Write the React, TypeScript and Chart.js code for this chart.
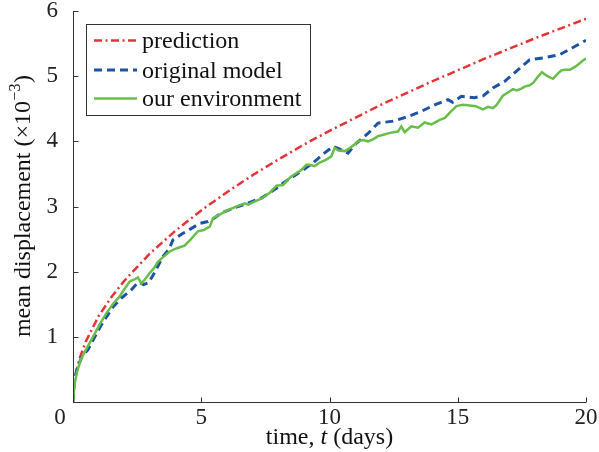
import React, { useEffect, useRef } from 'react';
import { Chart, registerables } from 'chart.js';
Chart.register(...registerables);

const FONT = '"Liberation Serif", "Times New Roman", serif';

const xTicks = [0, 5, 10, 15, 20];
const yTicks = [0, 1, 2, 3, 4, 5, 6];
const seriesNames = ['prediction', 'original model', 'our environment'];

const predT = [0.1, 0.25, 0.5, 1, 1.5, 2, 3, 4, 5, 6, 7, 8, 9, 10, 11, 12, 13, 14, 15, 16, 17, 18, 19, 20];
const predV = [0.42, 0.66, 0.93, 1.32, 1.61, 1.86, 2.28, 2.63, 2.94, 3.22, 3.48, 3.72, 3.95, 4.16, 4.36, 4.56, 4.74, 4.92, 5.09, 5.26, 5.42, 5.58, 5.73, 5.88];

const origT = [0, 0.05, 0.15, 0.35, 0.58, 0.85, 1.1, 1.56, 1.9, 2.27, 2.55, 2.75, 2.95, 3.2, 3.5, 3.75, 3.9, 4.29, 4.6, 4.94, 5.26, 5.5, 5.79, 6.3, 6.8, 7.35, 7.93, 8.38, 8.9, 9.36, 9.8, 10.14, 10.4, 10.72, 11.04, 11.5, 11.89, 12.48, 13.06, 13.58, 14.1, 14.62, 14.8, 15.14, 15.66, 16.0, 16.37, 16.83, 17.15, 17.5, 17.8, 18.32, 18.97, 19.49, 19.95, 20];
const origV = [0, 0.3, 0.5, 0.7, 0.8, 1.0, 1.18, 1.46, 1.6, 1.72, 1.84, 1.8, 1.83, 2.0, 2.23, 2.35, 2.49, 2.59, 2.66, 2.74, 2.77, 2.82, 2.9, 2.98, 3.05, 3.13, 3.28, 3.41, 3.54, 3.67, 3.82, 3.92, 3.88, 3.82, 3.97, 4.12, 4.28, 4.31, 4.38, 4.46, 4.56, 4.64, 4.6, 4.69, 4.67, 4.7, 4.82, 4.92, 5.03, 5.15, 5.25, 5.28, 5.33, 5.44, 5.54, 5.55];

const envT = [0, 0.05, 0.15, 0.3, 0.5, 0.85, 1.05, 1.3, 1.55, 1.82, 2.0, 2.21, 2.4, 2.53, 2.67, 2.8, 2.99, 3.15, 3.31, 3.5, 3.77, 4.05, 4.35, 4.6, 4.87, 5.1, 5.33, 5.46, 5.7, 5.91, 6.2, 6.43, 6.7, 6.83, 7.05, 7.28, 7.5, 7.67, 7.93, 8.19, 8.35, 8.51, 8.7, 8.9, 9.1, 9.23, 9.42, 9.6, 9.88, 10.07, 10.2, 10.35, 10.6, 10.8, 11.0, 11.11, 11.3, 11.5, 11.7, 11.89, 12.1, 12.35, 12.67, 12.8, 12.93, 13.19, 13.45, 13.71, 13.97, 14.3, 14.5, 14.69, 14.95, 15.2, 15.47, 15.7, 15.98, 16.18, 16.37, 16.5, 16.76, 17.0, 17.15, 17.3, 17.48, 17.61, 17.8, 17.95, 18.1, 18.28, 18.5, 18.71, 18.9, 19.04, 19.2, 19.37, 19.6, 19.88, 20.0];
const envV = [0, 0.25, 0.45, 0.65, 0.8, 1.05, 1.2, 1.36, 1.5, 1.62, 1.73, 1.85, 1.88, 1.91, 1.82, 1.88, 1.98, 2.05, 2.15, 2.22, 2.31, 2.36, 2.4, 2.5, 2.62, 2.64, 2.69, 2.82, 2.87, 2.92, 2.97, 3.01, 3.05, 3.03, 3.07, 3.11, 3.16, 3.21, 3.32, 3.33, 3.4, 3.46, 3.51, 3.56, 3.64, 3.64, 3.62, 3.67, 3.72, 3.77, 3.9, 3.86, 3.85, 3.9, 3.96, 4.0, 4.02, 4.0, 4.03, 4.08, 4.1, 4.13, 4.15, 4.23, 4.14, 4.23, 4.21, 4.29, 4.26, 4.33, 4.36, 4.44, 4.54, 4.56, 4.55, 4.54, 4.49, 4.53, 4.51, 4.55, 4.7, 4.76, 4.8, 4.78, 4.81, 4.84, 4.86, 4.9, 4.98, 5.06, 5.0, 4.96, 5.04, 5.09, 5.1, 5.1, 5.15, 5.24, 5.27];

const RED = 'rgb(228,52,56)';
const BLUE = 'rgb(30,82,165)';
const GREEN = 'rgb(104,190,72)';
const RED_DASH = [8, 3.5, 2, 3.5];
const BLUE_DASH = [8, 5];

const pts = (t: number[], v: number[]) => t.map((x, i) => ({ x, y: v[i] }));

export default function App() {
  const ref = useRef<HTMLCanvasElement>(null);
  useEffect(() => {
    document.body.style.margin = '0';
    const canvas = ref.current!;
    const overlay = {
      id: 'overlay',
      afterDraw(chart: any) {
        const { ctx, chartArea, scales } = chart;
        const { left, right, top, bottom } = chartArea;
        const xs = scales.x, ys = scales.y;
        ctx.save();
        // axes
        ctx.strokeStyle = '#333';
        ctx.lineWidth = 1;
        ctx.setLineDash([]);
        ctx.beginPath();
        const lx = Math.round(left) + 0.5, by = Math.round(bottom) + 0.5;
        ctx.moveTo(lx, top);
        ctx.lineTo(lx, by);
        ctx.lineTo(right, by);
        for (const v of yTicks) {
          const py = Math.round(ys.getPixelForValue(v)) + 0.5;
          ctx.moveTo(lx, py);
          ctx.lineTo(lx + 5, py);
        }
        for (const v of xTicks) {
          const px = Math.round(xs.getPixelForValue(v)) + 0.5;
          ctx.moveTo(px, by);
          ctx.lineTo(px, by - 5);
        }
        ctx.stroke();
        // shared zero label
        ctx.fillStyle = '#222';
        ctx.font = `23px ${FONT}`;
        ctx.textAlign = 'center';
        ctx.textBaseline = 'middle';
        ctx.fillText('0', left - 13, bottom + 16);

        // legend
        const bx = 86.5, byy = 24.5, bw = 224, bh = 91;
        ctx.fillStyle = '#fff';
        ctx.fillRect(bx, byy, bw, bh);
        ctx.strokeStyle = '#333';
        ctx.lineWidth = 1;
        ctx.strokeRect(bx, byy, bw, bh);
        const rows = [
          { name: seriesNames[0], color: RED, dash: RED_DASH, w: 2.5, ly: 40.5, ty: 48 },
          { name: seriesNames[1], color: BLUE, dash: BLUE_DASH, w: 3, ly: 70, ty: 77.5 },
          { name: seriesNames[2], color: GREEN, dash: [], w: 2.5, ly: 98.5, ty: 106 },
        ];
        for (const r of rows) {
          ctx.beginPath();
          ctx.strokeStyle = r.color;
          ctx.lineWidth = r.w;
          ctx.setLineDash(r.dash);
          ctx.moveTo(94, r.ly);
          ctx.lineTo(137, r.ly);
          ctx.stroke();
          ctx.setLineDash([]);
          ctx.fillStyle = '#111';
          ctx.font = `24px ${FONT}`;
          ctx.textAlign = 'left';
          ctx.textBaseline = 'alphabetic';
          ctx.fillText(r.name, 142, r.ty);
        }

        // y title
        ctx.save();
        ctx.translate(30, (top + bottom) / 2);
        ctx.rotate(-Math.PI / 2);
        ctx.fillStyle = '#111';
        ctx.textAlign = 'left';
        ctx.textBaseline = 'alphabetic';
        const main = 'mean displacement (\u00d710';
        const sup = '\u22123';
        const end = ')';
        ctx.font = `24px ${FONT}`;
        const w1 = ctx.measureText(main).width;
        const w3 = ctx.measureText(end).width;
        ctx.font = `16px ${FONT}`;
        const w2 = ctx.measureText(sup).width;
        const start = -(w1 + w2 + w3) / 2;
        ctx.font = `24px ${FONT}`;
        ctx.fillText(main, start, 0);
        ctx.font = `16px ${FONT}`;
        ctx.fillText(sup, start + w1 + 0.5, -10);
        ctx.font = `24px ${FONT}`;
        ctx.fillText(end, start + w1 + w2 + 1, 0);
        ctx.restore();

        // x title
        const a = 'time, ', b = 't', c = ' (days)';
        ctx.font = `24px ${FONT}`;
        const wa = ctx.measureText(a).width;
        const wc = ctx.measureText(c).width;
        ctx.font = `italic 24px ${FONT}`;
        const wb = ctx.measureText(b).width;
        const sx = (left + right) / 2 - (wa + wb + wc) / 2;
        ctx.fillStyle = '#111';
        ctx.textAlign = 'left';
        ctx.textBaseline = 'alphabetic';
        ctx.font = `24px ${FONT}`;
        ctx.fillText(a, sx, 444);
        ctx.font = `italic 24px ${FONT}`;
        ctx.fillText(b, sx + wa, 444);
        ctx.font = `24px ${FONT}`;
        ctx.fillText(c, sx + wa + wb, 444);
        ctx.restore();
      },
    };

    const chart = new Chart(canvas, {
      type: 'line',
      data: {
        datasets: [
          { label: seriesNames[2], data: pts(envT, envV), borderColor: GREEN, borderWidth: 2.5, pointRadius: 0, fill: false, tension: 0 },
          { label: seriesNames[1], data: pts(origT, origV), borderColor: BLUE, borderWidth: 3, borderDash: BLUE_DASH, pointRadius: 0, fill: false, tension: 0 },
          { label: seriesNames[0], data: pts(predT, predV), borderColor: RED, borderWidth: 2.5, borderDash: RED_DASH, pointRadius: 0, fill: false, tension: 0 },
        ],
      },
      options: {
        responsive: false,
        animation: false,
        devicePixelRatio: 1,
        layout: { padding: { top: 11, right: 13, left: 0, bottom: 0 } },
        plugins: { legend: { display: false }, tooltip: { enabled: false } },
        scales: {
          x: {
            type: 'linear',
            min: 0,
            max: 20,
            grid: { display: false },
            border: { display: false },
            ticks: {
              stepSize: 5,
              autoSkip: false,
              maxRotation: 0,
              padding: -6,
              color: '#222',
              font: { family: FONT, size: 23 },
              callback: (v: any) => (v === 0 ? '' : String(v)),
            },
            afterFit: (s: any) => { s.height = 50; s.paddingLeft = 0; s.paddingRight = 0; },
          },
          y: {
            type: 'linear',
            min: 0,
            max: 6,
            grid: { display: false },
            border: { display: false },
            ticks: {
              stepSize: 1,
              padding: 7,
              color: '#222',
              font: { family: FONT, size: 23 },
              callback: (v: any) => (v === 0 ? '' : String(v)),
            },
            afterFit: (s: any) => { s.width = 73; s.paddingTop = 0; s.paddingBottom = 0; },
          },
        },
      },
      plugins: [overlay],
    } as any);
    return () => chart.destroy();
  }, []);
  return (
    <div style={{ width: 599, height: 452 }}>
      <canvas ref={ref} width={599} height={452} style={{ display: 'block', width: 599, height: 452 }} />
    </div>
  );
}
